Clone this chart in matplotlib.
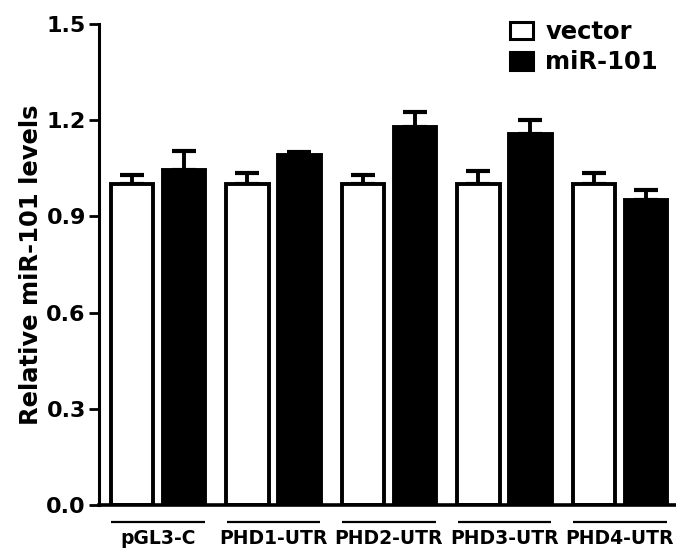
import matplotlib
matplotlib.use("Agg")
import matplotlib.pyplot as plt
import numpy as np
from matplotlib.patches import Patch
from matplotlib.transforms import blended_transform_factory

categories = ["pGL3-C", "PHD1-UTR", "PHD2-UTR", "PHD3-UTR", "PHD4-UTR"]
vector_vals = [1.0, 1.0, 1.0, 1.0, 1.0]
vector_err = [0.03, 0.035, 0.03, 0.042, 0.035]
mir_vals = [1.045, 1.09, 1.18, 1.158, 0.951]
mir_err = [0.058, 0.012, 0.045, 0.042, 0.031]
series_names = ["vector", "miR-101"]
yticks = [0.0, 0.3, 0.6, 0.9, 1.2, 1.5]

plt.rcParams['font.family'] = ['DejaVu Sans']
plt.rcParams['font.weight'] = 'bold'

W, H = 676, 551
fig = plt.figure(figsize=(W/100, H/100), dpi=100)
ax = fig.add_axes([99/W, (H-505)/H, (676-99)/W, (505-24)/H])

x = np.arange(len(categories))
off = 0.225
bw = 0.365
lw = 2.8

ax.errorbar(x - off, vector_vals, yerr=[np.zeros(len(x)), vector_err], fmt='none',
            ecolor='black', elinewidth=2.8, capsize=8.3, capthick=3.0, zorder=1)
ax.errorbar(x + off, mir_vals, yerr=[np.zeros(len(x)), mir_err], fmt='none',
            ecolor='black', elinewidth=2.8, capsize=8.3, capthick=3.0, zorder=1)
ax.bar(x - off, vector_vals, width=bw, color='white', edgecolor='black', linewidth=lw, zorder=2)
ax.bar(x + off, mir_vals, width=bw, color='black', edgecolor='black', linewidth=lw, zorder=2)

ax.set_xlim(-0.51, 4.485)
ax.set_ylim(0, 1.5)
ax.set_yticks(yticks)
ax.set_yticklabels([f"{v:.1f}" for v in yticks], fontsize=16, fontweight='bold')
ax.tick_params(axis='y', length=7.5, width=2.0, pad=2, direction='out')
ax.set_xticks(x)
ax.set_xticklabels(categories, fontsize=13.5, fontweight='bold')
ax.tick_params(axis='x', length=0, pad=17)

for s in ['top', 'right']:
    ax.spines[s].set_visible(False)
ax.spines['left'].set_linewidth(2.2)
ax.spines['bottom'].set_linewidth(2.6)

ax.set_ylabel("Relative miR-101 levels", fontsize=17.5, fontweight='bold', labelpad=2)

trans = blended_transform_factory(ax.transData, ax.transAxes)
for xi in x:
    ax.plot([xi - 0.405, xi + 0.405], [-0.036, -0.036], color='black', lw=1.6,
            transform=trans, clip_on=False, solid_capstyle='butt')

handles = [Patch(facecolor='white', edgecolor='black', linewidth=2.2),
           Patch(facecolor='black', edgecolor='black', linewidth=2.2)]
leg = ax.legend(handles, series_names, loc='upper left',
                bbox_to_anchor=(510/W, 1 - 20/H), bbox_transform=fig.transFigure,
                frameon=False, prop={'weight': 'bold', 'size': 17.5},
                handlelength=0.95, handleheight=0.75, handletextpad=0.5,
                labelspacing=0.25, borderpad=0, borderaxespad=0)

fig.savefig("out.png", dpi=100)
